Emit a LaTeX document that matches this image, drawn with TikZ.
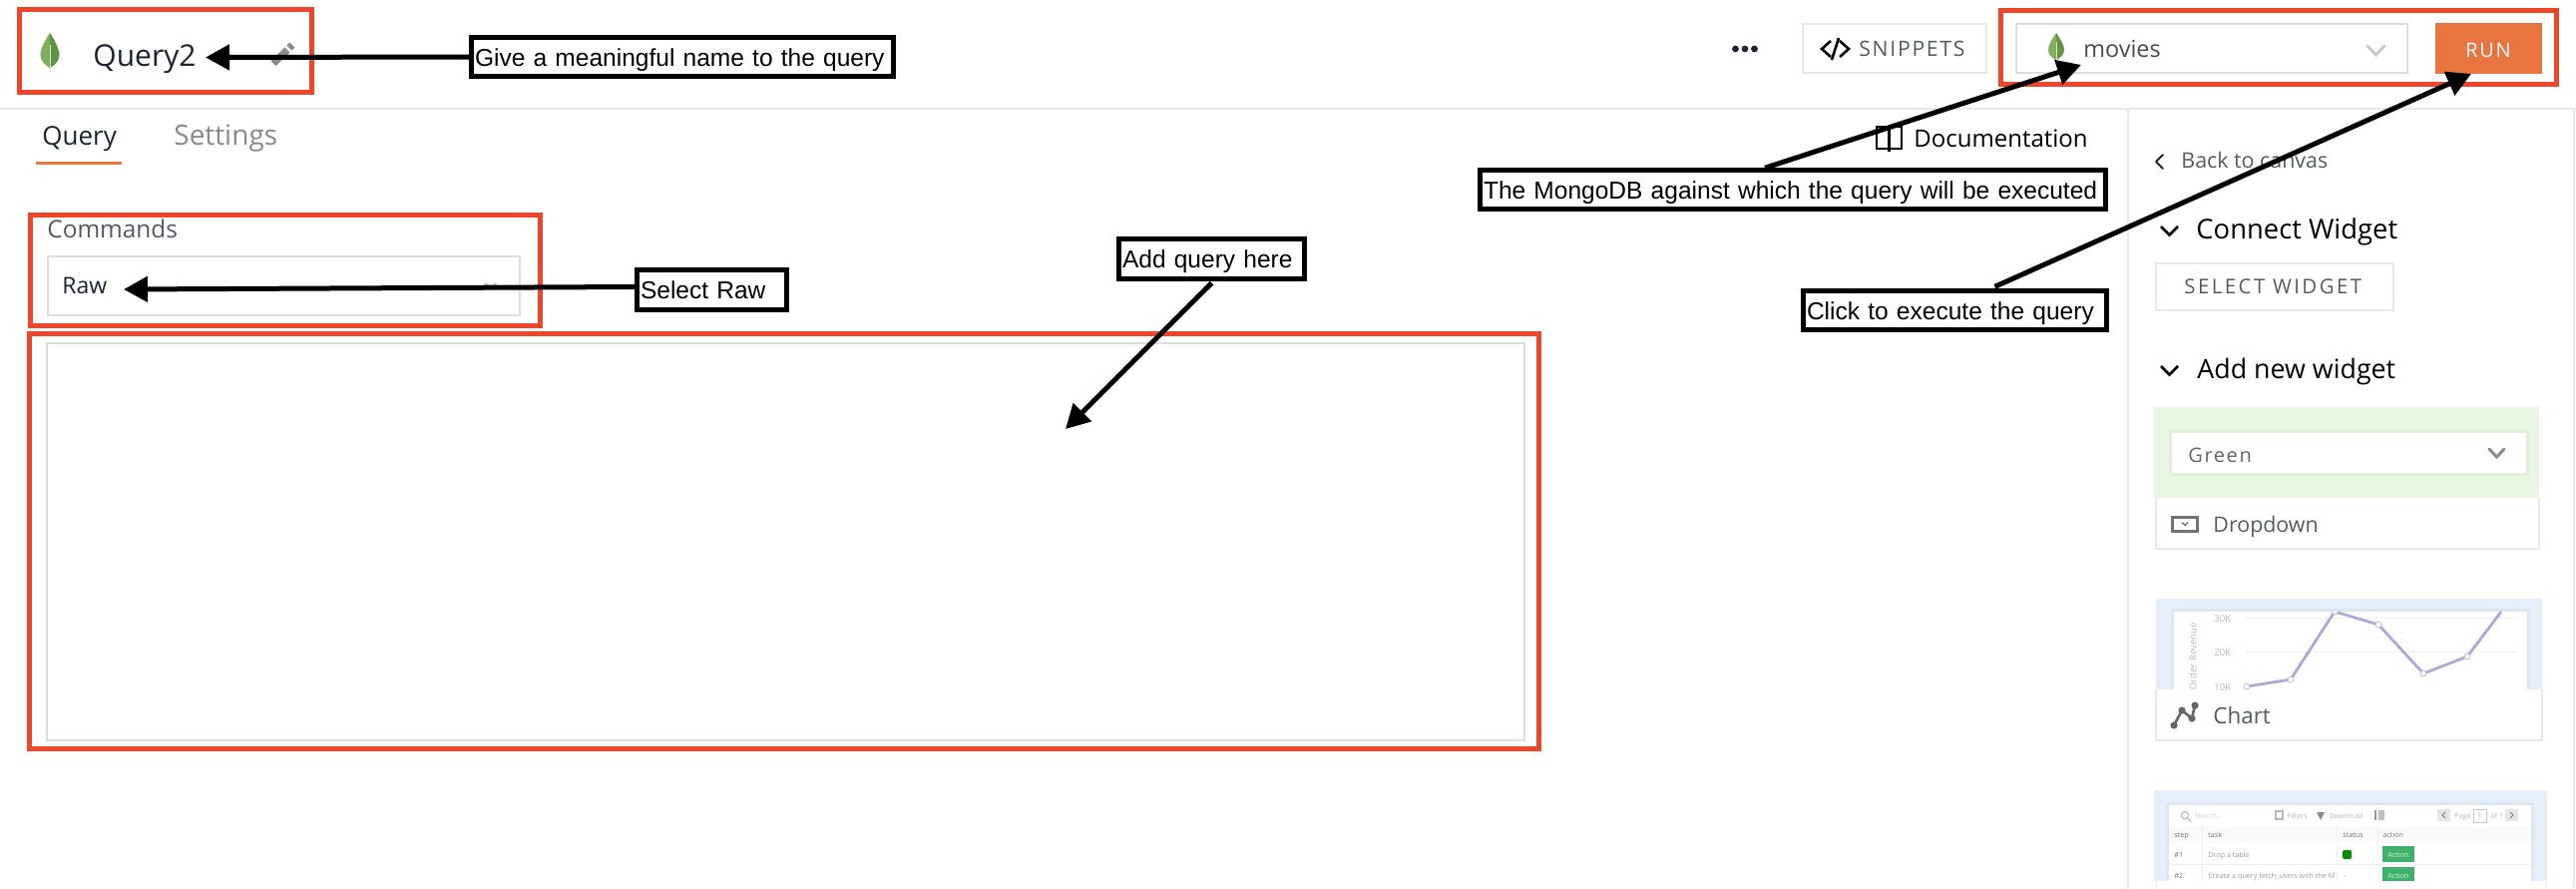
\documentclass[tikz,border=0pt]{standalone}
\usepackage{fontspec}
\usetikzlibrary{arrows.meta,calc}
\setmainfont{Open Sans}
\newfontfamily\armf{Liberation Sans}
\newfontfamily\spacedf[LetterSpace=8]{Open Sans}
\newfontfamily\widef[LetterSpace=12]{Open Sans}
\definecolor{redbox}{HTML}{EF4528}
\definecolor{orangeb}{HTML}{E8743F}
\definecolor{sepc}{HTML}{E8E8E8}
\definecolor{fieldc}{HTML}{DDDDDD}
\definecolor{darkt}{HTML}{1B2430}
\definecolor{leafl}{HTML}{7CB05A}
\definecolor{leafd}{HTML}{5F9440}
\definecolor{greyt}{HTML}{8A8A8A}
\definecolor{midt}{HTML}{555A60}
\definecolor{thgreen}{HTML}{E9F6E2}
\definecolor{thgreens}{HTML}{E1EFD9}
\definecolor{thblue}{HTML}{E6EFF9}
\definecolor{thshadow}{HTML}{DCE6F1}
\definecolor{chartl}{HTML}{A9ABD8}
\definecolor{blurt}{HTML}{B8B8B8}
\definecolor{actg}{HTML}{3EB26A}
\tikzset{
  x=0.5pt,y=-0.5pt,
  ui/.style={inner sep=0pt,anchor=base west,text=darkt},
  redframe/.style={draw=redbox,line width=2.5pt},
  field/.style={draw=fieldc,line width=1pt},
  softbox/.style={draw=sepc,line width=1.2pt},
  sepline/.style={draw=sepc,line width=1pt},
  chev/.style={line width=1pt,line cap=round,line join=round},
  callout/.style={draw=black,fill=white,line width=2.2pt,inner ysep=0pt,inner xsep=1.75pt,
     align=left,font=\armf\fontsize{12.27}{14}\selectfont,text height=12pt,text depth=3pt,text=black},
  pointer/.style={draw=black,line width=2.5pt,-{Triangle[length=12pt,width=12.5pt]}},
  tiny/.style={inner sep=0pt,anchor=base west,text=blurt,font=\fontsize{3.6}{5}\selectfont},
  thtiny/.style={tiny,text=gray!90!black},
  axtiny/.style={inner sep=0pt,anchor=base west,text=blurt,font=\fontsize{4.8}{6}\selectfont},
}
\newcommand{\mleaf}[4]{%
  \begin{scope}[shift={(#1,#2)},xscale=#3,yscale=#4]
    \fill[leafl] (0,0) .. controls (-.5,.18) and (-1,.4) .. (-1,.55) .. controls (-1,.72) and (-.4,.82) .. (0,.88) -- cycle;
    \fill[leafd] (0,0) .. controls (.5,.18) and (1,.4) .. (1,.55) .. controls (1,.72) and (.4,.82) .. (0,.88) -- cycle;
    \draw[line width=.5pt,draw=black!12] (0,.3) -- (0,1);
  \end{scope}}
\begin{document}
\begin{tikzpicture}
\useasboundingbox (0,0) rectangle (2582,890);
\fill[white] (0,0) rectangle (2582,890);
% separators
\draw[sepline] (0,108.7) -- (2582,108.7);
\draw[sepline] (2133,108.7) -- (2133,890);
\draw[sepline] (2580,108.7) -- (2580,890);
% header left
\mleaf{50}{33}{9.5}{40}
\node[ui,font=\fontsize{15}{16}\selectfont] (qname) at (93,66) {Query2};
\draw[line width=3.6pt,draw=greyt] (274,63.5) -- (288,50);
\draw[line width=3.6pt,draw=greyt] (290,48) -- (293,45);
% tabs
\node[ui,font=\fontsize{13}{15}\selectfont] (tabq) at (42,145) {Query};
\node[ui,text=greyt,font=\fontsize{14}{15}\selectfont] (tabs) at (174,145) {Settings};
\fill[orangeb] (36,162) rectangle (122,165);
% commands
\node[ui,text=midt,font=\fontsize{12.2}{14}\selectfont] (cmd) at (47,238) {Commands};
\draw[field] (48,257) rectangle (521,316);
\node[ui,font=\fontsize{11.5}{14}\selectfont] (raw) at (62,294) {Raw};
\draw[chev,draw=black!22] (487,284) -- (492,290) -- (497,284);
% query editor
\draw[field] (47,344) rectangle (1528,742);
% top right
\foreach \dx in {1739.5,1749,1758.5} \fill[darkt] (\dx,49) circle (3.4);
\draw[softbox] (1807,24) rectangle (1991,73);
\draw[line width=1.3pt,draw=black,line join=miter] (1835,41) -- (1826,49) -- (1835,57);
\draw[line width=1.3pt,draw=black,line join=miter] (1844,41) -- (1853,49) -- (1844,57);
\draw[line width=1.3pt,draw=black] (1843,38) -- (1836,60);
\node[ui,text=midt,font=\spacedf\fontsize{10.6}{12}\selectfont] (snip) at (1863,56) {SNIPPETS};
\draw[field] (2021,24) rectangle (2413,72.5);
\mleaf{2061}{33}{8}{31}
\node[ui,text=midt!85!black,font=\fontsize{11.7}{14}\selectfont] (mov) at (2088,57) {movies};
\draw[line width=1.4pt,draw=black!22,line cap=round] (2373,46) -- (2381.5,55) -- (2390,46);
\fill[orangeb] (2441,23) rectangle (2548,74);
\node[ui,text=white,font=\spacedf\fontsize{10}{12}\selectfont] (runb) at (2471,57) {RUN};
% documentation
\draw[line width=1.1pt,draw=black] (1881,127) rectangle (1906,149);
\draw[line width=1.1pt,draw=black] (1893.5,127) -- (1893.5,152);
\node[ui,text=black,font=\fontsize{12}{14}\selectfont] (docs) at (1918,147) {Documentation};
% right panel
\draw[chev,draw=darkt] (2168,155) -- (2161,162) -- (2168,169);
\node[ui,text=midt,font=\fontsize{10.7}{12}\selectfont] (back) at (2186,168) {Back to canvas};
\draw[line width=1.3pt,draw=black,line join=miter] (2166,227) -- (2174.5,235.5) -- (2183,227);
\node[ui,text=black,font=\fontsize{13.7}{15}\selectfont] (conn) at (2201,239) {Connect Widget};
\draw[softbox] (2161,264) rectangle (2399,311);
\node[ui,text=midt,font=\widef\fontsize{10.2}{12}\selectfont] (selw) at (2189,294) {SELECT WIDGET};
\draw[line width=1.3pt,draw=black,line join=miter] (2166,367) -- (2174.5,375.5) -- (2183,367);
\node[ui,text=black,font=\fontsize{13.4}{15}\selectfont] (addw) at (2202,379) {Add new widget};
% dropdown thumb
\fill[thgreen] (2159,408) rectangle (2545,499);
\fill[thgreens] (2174,431) rectangle (2535,477);
\fill[white] (2177,434) rectangle (2532,474);
\node[ui,text=black!60,font=\spacedf\fontsize{10}{12}\selectfont] (gree) at (2193,463) {Green};
\draw[line width=1.5pt,draw=black!45,line cap=round] (2495,450) -- (2502.5,458) -- (2510,450);
\draw[draw=sepc,line width=.8pt] (2161,499) -- (2161,550) -- (2545,550) -- (2545,499);
\draw[line width=1.5pt,draw=black!55] (2177.5,518) rectangle (2202,532);
\draw[line width=.7pt,draw=black!55] (2187,523.5) -- (2190,526.5) -- (2193,523.5);
\node[ui,text=midt,font=\fontsize{10.7}{14}\selectfont] (drop) at (2218,533) {Dropdown};
% chart thumb
\fill[thblue] (2161,600) rectangle (2548,691);
\fill[thshadow] (2176,610) rectangle (2536,691);
\fill[white] (2179,613) rectangle (2533,691);
\begin{scope}
\clip (2179,613) rectangle (2533,691);
\draw[draw=black!5,line width=.5pt] (2250,619) -- (2522,619);
\draw[draw=black!5,line width=.5pt] (2250,653) -- (2522,653);
\node[axtiny,rotate=90,anchor=center] (yax) at (2198,670) {Total Order Revenue};
\node[axtiny] (y30) at (2219,623) {30K};
\node[axtiny] (y20) at (2219,657) {20K};
\node[axtiny] (y10) at (2219,692) {10K};
\draw[draw=chartl,line width=1.4pt,line join=round] (2252,688) -- (2296,681) -- (2340,613) -- (2384,626) -- (2429,675) -- (2473,658) -- (2507,613);
\foreach \px/\py in {2252/688,2296/681,2340/613,2384/626,2429/675,2473/658}
  \draw[draw=chartl!70,fill=white,line width=.5pt] (\px,\py) circle (3);
\end{scope}
\draw[draw=sepc,line width=.8pt] (2161,691) -- (2161,742) -- (2548,742) -- (2548,691);
\draw[draw=black!60,line width=1.3pt] (2179,727) -- (2187,712) -- (2197,720) -- (2200,707);
\foreach \px/\py in {2179/727,2187/712,2197/720,2200/707} \fill[black!60] (\px,\py) circle (3.6);
\node[ui,text=midt,font=\fontsize{11.2}{14}\selectfont] (chrt) at (2218,725) {Chart};
% table thumb
\fill[thblue] (2159,792) rectangle (2553,883);
\fill[thshadow] (2171,804) rectangle (2540,883);
\fill[white] (2174,807) rectangle (2537,883);
\fill[black!2] (2174,828) rectangle (2537,845);
\draw[draw=black!6,line width=.4pt] (2207,828) -- (2207,883);
\draw[draw=black!6,line width=.4pt] (2342,828) -- (2342,883);
\draw[draw=black!6,line width=.4pt] (2383,828) -- (2383,883);
\draw[draw=black!6,line width=.4pt] (2174,866) -- (2537,866);
\draw[draw=blurt,line width=.6pt] (2190,817) circle (3.6);
\draw[draw=blurt,line width=.6pt] (2193,820) -- (2196,824);
\node[tiny,text=black!18] (tsearch) at (2199,820) {Search...};
\draw[draw=blurt,line width=.6pt] (2281,813) rectangle (2288,821);
\node[tiny] (tfilt) at (2292,820) {Filters};
\fill[black!45] (2322,814) -- (2330,814) -- (2326,822) -- cycle;
\node[tiny] (tdown) at (2334,820) {Download};
\draw[draw=black!40,line width=.8pt] (2381,812) -- (2381,822);
\fill[black!25] (2384,812) rectangle (2390,822);
\fill[black!10] (2443,811) rectangle (2456,823);
\draw[draw=black!50,line width=.5pt] (2451,814) -- (2448,817) -- (2451,820);
\node[tiny] (tpage) at (2460,820) {Page};
\draw[draw=blue!25,line width=.5pt] (2479,811) rectangle (2492,824);
\node[tiny,anchor=center] (tone) at (2485.5,817.5) {1};
\node[tiny] (tof) at (2496,820) {of 1};
\fill[black!10] (2511,811) rectangle (2524,823);
\draw[draw=black!50,line width=.5pt] (2516,814) -- (2519,817) -- (2516,820);
\node[thtiny] (hstep) at (2179,839) {step};
\node[thtiny] (htask) at (2213,839) {task};
\node[thtiny] (hstat) at (2348,839) {status};
\node[thtiny] (hact) at (2388,839) {action};
\node[thtiny] (r1) at (2179,859) {\#1};
\node[tiny,text=black!40] (r1t) at (2213,859) {Drop a table};
\fill[green!55!black,rounded corners=1pt] (2348,852) rectangle (2357,861);
\fill[actg] (2388,848) rectangle (2420,864);
\node[tiny,text=white!80!actg] (r1a) at (2393,859) {Action};
\node[thtiny] (r2) at (2179,880) {\#2};
\node[tiny,text=black!40] (r2t) at (2213,880) {Create a query fetch\_users with the M};
\node[tiny] (r2s) at (2348,880) {--};
\fill[actg] (2388,869) rectangle (2420,883);
\node[tiny,text=white!80!actg] (r2a) at (2393,880) {Action};
\draw[draw=sepc,line width=.5pt] (2161,883) -- (2161,890);
\draw[draw=sepc,line width=.5pt] (2552,883) -- (2552,890);
% red frames
\draw[redframe] (19.5,9.5) rectangle (312.5,92.5);
\draw[redframe] (30,215.5) rectangle (541.5,326.5);
\draw[redframe] (29.5,334.5) rectangle (1542.5,750.5);
\draw[redframe] (2005.5,10.5) rectangle (2562.5,84.5);
% callouts
\node[callout,minimum width=211.5pt,minimum height=19.5pt,text width=208pt] (lname) at (684,57) {Give a meaningful name to the query};
\node[callout,minimum width=313.5pt,minimum height=19.5pt,text width=310pt] (lmongo) at (1797,190) {The MongoDB against which the query will be executed};
\node[callout,minimum width=152pt,minimum height=19.5pt,text width=148.5pt] (lclick) at (1959.5,311) {Click to execute the query};
\node[callout,minimum width=75pt,minimum height=20pt,text width=71.5pt] (lraw) at (713.5,290.5) {Select Raw};
\node[callout,minimum width=93pt,minimum height=20pt,text width=89.5pt] (ladd) at (1214.5,259.5) {Add query here};
% free ends
\coordinate (tname) at (206,57.5);
\coordinate (traw) at (124,290);
\coordinate (tmongo) at (2086,65);
\coordinate (tclick) at (2477,74);
\coordinate (tadd) at (1068,430);
% arrows
\draw[pointer] (lname.west) -- (tname);
\draw[pointer] ($(lraw.west)+(0,-3)$) -- (traw);
\draw[pointer] ($(lmongo.north)+(-28,0)$) -- (tmongo);
\draw[pointer] ($(lclick.north)+(40,-2)$) -- (tclick);
\draw[pointer] ($(ladd.south)+(0,2)$) -- (tadd);
\end{tikzpicture}
\end{document}
